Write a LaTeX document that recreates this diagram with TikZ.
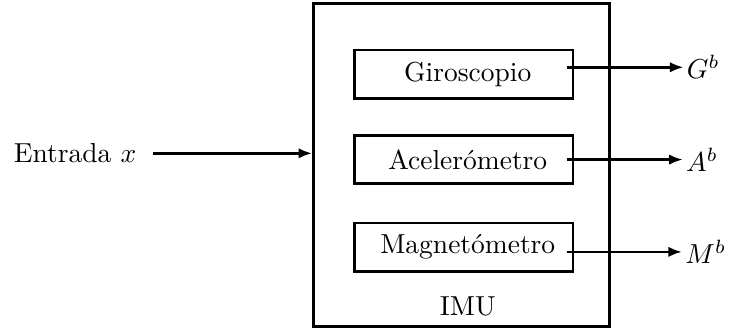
\documentclass[tikz,border=0pt]{standalone}
\usepackage{tikz}
\usetikzlibrary{arrows.meta,positioning}
\usepackage{amsmath}

\begin{document}
\begin{tikzpicture}[
  box/.style={draw,line width=1pt,minimum width=2.79cm,minimum height=0.62cm,
              inner sep=0pt},
  outlbl/.style={anchor=west,inner sep=1pt},
  arr/.style={-{Latex[length=5pt,width=3.8pt]},line width=1pt},
]
\useasboundingbox (0,0) rectangle (9.32,4.23);
\node[draw,line width=1pt,minimum width=3.78cm,minimum height=4.13cm] (imu) at (5.90,2.12) {};
\node (imulbl) at (5.98,0.31) {IMU};
\node[box] (giro) at (5.93,3.28) {\hspace{0.1cm}Giroscopio};
\node[box] (acel) at (5.93,2.19) {\hspace{0.1cm}Aceler\'ometro};
\node[box] (magn) at (5.93,1.07) {\hspace{0.1cm}Magnet\'ometro};
\node[outlbl] (gb) at (8.74,3.37) {$G^b$};
\node[outlbl] (ab) at (8.73,2.19) {$A^b$};
\node[outlbl] (mb) at (8.72,1.01) {$M^b$};
\node (ent) at (0.96,2.27) {Entrada $x$};
\draw[arr] ([xshift=-0.1cm]giro.east |- gb.west) -- (gb.west);
\draw[arr] ([xshift=-0.1cm]acel.east |- ab.west) -- (ab.west);
\draw[arr] ([xshift=-0.1cm]magn.east |- mb.west) -- (mb.west);
\draw[arr] ([xshift=0.09cm]ent.east) -- (ent.east -| imu.west);
\end{tikzpicture}
\end{document}
